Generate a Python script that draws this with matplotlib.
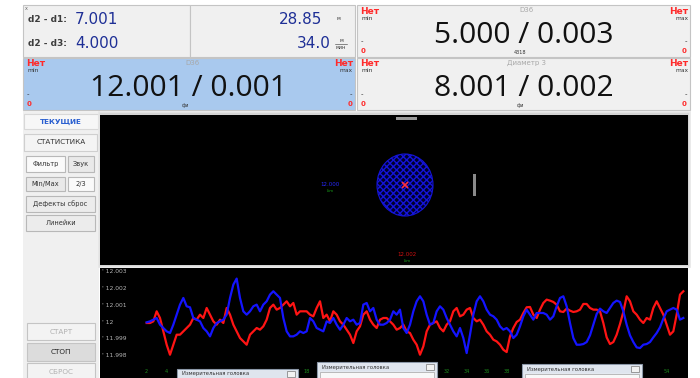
import numpy as np
import matplotlib.pyplot as plt
from matplotlib.patches import Rectangle, Ellipse

# diameter trace, deviation from nominal in micrometres, one value per sample
nominal = 12.0
blue_um = [-0.02, 0.04, 0.14, 0.24, -0.16, -0.36, -0.56, -0.66, -0.16, 0.44,
           1.04, 1.44, 0.94, 0.88, 0.24, 0.14, 0.04, -0.36, -0.56, -0.86,
           -0.36, -0.06, 0.04, 0.14, 0.44, 1.44, 2.24, 2.6, 1.44, 0.64,
           0.44, 0.64, 0.94, 1.04, 0.64, 1.04, 1.24, 1.64, 1.84, 1.64,
           1.44, 0.24, -0.56, -0.86, -0.86, -0.76, -0.56, -0.66, -0.56, 0.24,
           0.04, -0.36, -0.46, -0.56, 0.04, -0.06, 0.24, -0.16, -0.46, -0.16,
           0.24, 0.04, 0.14, -0.16, -0.06, 1.04, 1.14, 0.64, 0.84, 0.14,
           -0.16, -0.16, -0.06, 0.14, 0.64, 0.44, 0.74,
           -0.36, -0.66, -0.16, 0.64, 1.24, 1.54, 1.24, 0.44, -0.16, -0.06,
           0.64, 0.94, 0.74, 0.24, -0.16, -0.56, -0.86, -0.36, -0.96, -1.86,
           -0.76, 0.44, 1.24, 1.54, 1.24, 0.74, 0.44, 0.34, 0.14, -0.26,
           -0.46, -0.36, -0.56, -0.96, -0.76, -0.26, 0.34, 0.74, 0.44, 0.14,
           0.54, 0.54, 0.54, 0.44, 0.14, 0.34, 0.94, 1.44, 1.54, 0.94,
           -0.06, -0.96, -1.36, -1.36, -1.32, -1.2, -0.8, -0.16, 0.48, 0.8,
           0.64, 0.54, 0.84, 1.14, 1.28, 1.2, 0.64, -0.16, -0.8, -1.2,
           -1.52, -1.56, -1.36, -1.32, -1.2, -0.92, -0.66, -0.32, 0.2, 0.64,
           0.74, 0.84, 0.74, 0.14, 0.24]
red_um = [-0.06, -0.06, 0.04, 0.64, 0.24, -0.56, -1.36, -1.96, -1.36, -0.76,
          -0.76, -0.56, -0.36, -0.16, 0.24, 0.14, 0.44, 0.24, 0.84, 0.44,
          0.04, -0.16, 0.14, -0.06, 0.84, 0.44, -0.16, -0.56, -0.96, -1.16,
          -1.36, -0.76, -0.56, -0.36, -0.46, -0.26, 0.14, 0.84, 1.04, 0.74,
          0.84, 1.04, 1.24, 0.94, 1.14, 0.44, 0.64, 0.64, 0.64, 0.44,
          0.34, 0.84, 1.24, 0.24, 0.44, 0.04, 0.64, 0.44, 0.04, -0.16,
          -0.46, -0.76, -1.26, -0.56, -0.26, 0.44, 0.64, 0.14, -0.16, -0.36,
          0.14, 0.24, 0.24, 0.04, -0.16, -0.46, -0.36,
          -0.16, -0.56, -0.66, -1.06, -1.36, -1.96, -1.46, -0.56, -0.16, -0.06,
          0.04, -0.36, -0.56, -0.16, 0.04, 0.64, 0.84, 0.34, 0.44, 0.74,
          0.84, 0.24, 0.04, 0.14, -0.16, -0.56, -0.76, -1.06, -1.16, -1.36,
          -1.66, -1.8, -0.86, -0.36, 0.0, 0.14, 0.54, 0.88, 0.9, 0.44,
          0.24, 0.74, 1.14, 1.34, 1.28, 1.2, 1.04, 0.64, 0.6, 0.8,
          0.68, 0.6, 0.64, 0.74, 1.08, 1.08, 0.84, 0.74, 0.74, 0.64,
          -0.06, -0.92, -1.32, -1.2, -0.76, -0.12, 0.6, 1.54, 1.24, 0.64,
          0.44, 0.14, -0.06, 0.24, 0.14, 0.84, 1.24, 0.84, 0.44, -0.16,
          -0.76, -0.56, 0.44, 1.64, 1.84]
ytick_vals = [12.003, 12.002, 12.001, 12.0, 11.999, 11.998]
ytick_text = ["12.003", "12.002", "12.001", "12", "11.999", "11.998"]
xtick_text = [str(v) for v in range(2, 56, 2)]

# readout panels: title, value, caption
readouts = [("D36", "5.000 / 0.003", "4318"),
            ("D36", "12.001 / 0.001", "фи"),
            ("Диаметр 3", "8.001 / 0.002", "фи")]
side_buttons = ["СТАТИСТИКА", "Дефекты сброс", "Линейки"]
run_buttons = ["СТАРТ", "СТОП", "СБРОС"]

RED = "#ff2a2a"
NAVY = "#1e2f96"
DARK = "#333333"
BIG = "Open Sans"

# probe windows lying over the chart: left, top, right (px)
windows = [(177, 369, 298), (317, 362, 437), (522, 364, 642)]

fig = plt.figure(figsize=(7, 3.78), dpi=100, facecolor="white")
ax = fig.add_axes([0, 0, 1, 1])
ax.set_xlim(0, 700)
ax.set_ylim(378, 0)
ax.axis("off")


def box(a, x0, y0, x1, y1, fc, ec="#c4c4c4", lw=0.8, z=1):
    a.add_patch(Rectangle((x0, y0), x1 - x0, y1 - y0, fc=fc, ec=ec, lw=lw, zorder=z))


def readout(x0, x1, y0, y1, fc, title, value, caption):
    box(ax, x0, y0, x1, y1, fc)
    xc = (x0 + x1) / 2
    for x, ha, lim in ((x0 + 3, "left", "min"), (x1 - 2, "right", "max")):
        ax.text(x, y0 + 6, "Нет", color=RED, fontsize=6.5, fontweight="bold", ha=ha, va="center")
        ax.text(x + (1 if ha == "left" else 0), y0 + 13, lim, color=DARK, fontsize=4.3, ha=ha, va="center")
        ax.text(x + (1 if ha == "left" else -1), y0 + 36, "-", color=DARK, fontsize=5, ha=ha, va="center")
        ax.text(x + (1 if ha == "left" else -1), y0 + 46, "0", color=RED, fontsize=5, fontweight="bold", ha=ha, va="center")
    ax.text(xc + 3, y0 + 5, title, color="#a8a8a8", fontsize=5, ha="center", va="center")
    ax.text(xc, y0 + 38, value, color="#111111", fontsize=21.6, family=BIG, ha="center", va="baseline")
    ax.text(xc - 3, y0 + 47, caption, color=DARK, fontsize=3.5, ha="center", va="center")


# top left block: differences and speed
box(ax, 23, 5, 190, 57, "#f0f0f0")
box(ax, 190, 5, 355, 57, "#f0f0f0")
ax.text(25, 8, "x", fontsize=3.5, color="#666666", va="center")
ax.text(28, 20, "d2 - d1:", fontsize=6.5, fontweight="bold", color="#3c3c3c", va="center")
ax.text(75, 20, "7.001", fontsize=11, color=NAVY, va="center")
ax.text(28, 44, "d2 - d3:", fontsize=6.5, fontweight="bold", color="#3c3c3c", va="center")
ax.text(75, 44, "4.000", fontsize=11, color=NAVY, va="center")
ax.text(322, 20, "28.85", fontsize=11, color=NAVY, ha="right", va="center")
ax.text(338, 18, "м", fontsize=3.5, color=DARK, ha="center", va="center")
ax.text(331, 44, "34.0", fontsize=11, color=NAVY, ha="right", va="center")
ax.text(341, 41, "м", fontsize=3.5, color=DARK, ha="center", va="center")
ax.plot([335, 347], [44, 44], color=DARK, lw=0.4)
ax.text(341, 47.5, "мин", fontsize=3.5, color=DARK, ha="center", va="center")

readout(357, 690, 5, 57, "#f0f0f0", *readouts[0])
readout(23, 355, 58, 110, "#a9c9ee", *readouts[1])
readout(357, 690, 58, 110, "#f0f0f0", *readouts[2])

# left control column
box(ax, 23, 111, 99, 378, "#f0f0f0", ec="none")
box(ax, 24, 114, 98, 129, "#f7f7f7", ec="#d8d8d8")
ax.text(61, 121.5, "ТЕКУЩИЕ", fontsize=5.2, fontweight="bold", color="#2a5fd0", ha="center", va="center")
box(ax, 24, 134, 97, 151, "#f4f4f4", ec="#cfcfcf")
ax.text(61, 142.5, side_buttons[0], fontsize=5.2, color=DARK, ha="center", va="center")
for (x0, x1, y0, y1, s, fc) in ((26, 65, 156, 172, "Фильтр", "#fafafa"),
                                (68, 94, 156, 172, "Звук", "#e9e9e9"),
                                (26, 65, 177, 191, "Min/Max", "#e9e9e9"),
                                (68, 94, 177, 191, "2/3", "#fafafa")):
    box(ax, x0, y0, x1, y1, fc, ec="#b8b8b8")
    ax.text((x0 + x1) / 2, (y0 + y1) / 2, s, fontsize=4.8, color=DARK, ha="center", va="center")
for (y0, y1, s) in ((196, 212, side_buttons[1]), (215, 231, side_buttons[2])):
    box(ax, 26, y0, 95, y1, "#ececec", ec="#b8b8b8")
    ax.text(60.5, (y0 + y1) / 2, s, fontsize=4.8, color=DARK, ha="center", va="center")
for (y0, y1, s, fc, tc) in ((323, 340, run_buttons[0], "#f3f3f3", "#b0b0b0"),
                            (343, 361, run_buttons[1], "#dcdcdc", "#222222"),
                            (363, 380, run_buttons[2], "#f3f3f3", "#b0b0b0")):
    box(ax, 27, y0, 95, y1, fc, ec="#c4c4c4")
    ax.text(61, (y0 + y1) / 2, s, fontsize=5.2, color=tc, ha="center", va="center")

# target view canvas
box(ax, 99, 112, 690, 267, "#d4d4d4", ec="#e6e6e6", lw=1.2)
box(ax, 100, 115, 688, 265, "black", ec="none", z=2)
box(ax, 396, 117, 417, 119.5, "#9a9a9a", ec="none", z=3)
box(ax, 473, 174, 475.5, 196, "#8a8a8a", ec="none", z=3)
ax.add_patch(Ellipse((405, 185), 56, 62, fc="#00002e", ec="#1414d8", hatch="xxxxx", lw=0.8, zorder=3))
ax.plot([405], [185], marker="x", color="#ff3040", ms=4, mew=1.2, zorder=4)
ax.text(330, 185, "12.000", fontsize=4, color="#2828ff", ha="center", va="center", zorder=4)
ax.text(330, 191, "Lim", fontsize=2.8, color="#18a018", ha="center", va="center", zorder=4)
ax.text(407, 254, "12.002", fontsize=4, color="#d01010", ha="center", va="center", zorder=4)
ax.text(407, 261, "Lim", fontsize=2.8, color="#18a018", ha="center", va="center", zorder=4)

# trace chart
top_v = nominal + (322 - 268) / 16.7 * 0.001
bot_v = nominal - (378 - 322) / 16.7 * 0.001
ch = fig.add_axes([100 / 700, 0, 588 / 700, 110 / 378], zorder=2)
ch.set_facecolor("black")
n = len(blue_um)
idx = np.arange(n)
x_lo, x_hi = -14.0, 162.4
ch.set_xlim(x_lo, x_hi)
ch.set_ylim(bot_v, top_v)
ch.plot(idx, nominal + np.array(red_um) / 1000, color="#ff1414", lw=1.6)
ch.plot(idx, nominal + np.array(blue_um) / 1000, color="#1414ff", lw=1.6)
for v, s in zip(ytick_vals, ytick_text):
    ch.text(0.004, v, "' " + s, transform=ch.get_yaxis_transform(), fontsize=4.3,
            color="#b4b4b4", va="center")
for k, s in enumerate(xtick_text):
    px = 100 + (k * 6 - x_lo) / (x_hi - x_lo) * 588
    # labels under a probe window stay hidden
    if any(w[0] - 6 < px < w[2] + 6 for w in windows):
        continue
    ch.text(k * 6, 0.055, s, transform=ch.get_xaxis_transform(), fontsize=3.6,
            color="#1c8c1c", ha="center", va="center")
ch.set_xticks([])
ch.set_yticks([])
for sp in ch.spines.values():
    sp.set_visible(False)

# floating probe windows over the chart
ov = fig.add_axes([0, 0, 1, 1], zorder=5)
ov.set_xlim(0, 700)
ov.set_ylim(378, 0)
ov.axis("off")
ov.patch.set_alpha(0)
for (x0, y0, x1) in windows:
    box(ov, x0, y0, x1, 382, "#e4e9f0", ec="#8c98a8", lw=0.8)
    box(ov, x0 + 1, y0 + 1, x1 - 1, y0 + 9, "#dfe5ee", ec="none")
    ov.text(x0 + 5, y0 + 5, "Измерительная головка", fontsize=3.8, color="#303030", va="center")
    box(ov, x1 - 11, y0 + 1.5, x1 - 3, y0 + 8, "#f2f2f2", ec="#8a8a8a", lw=0.6)
    box(ov, x0 + 3, y0 + 10, x1 - 3, 384, "#f8f8f8", ec="#b0b0b0", lw=0.6)
    if y0 + 17 < 378:
        ov.text(x0 + 8, y0 + 13.5, "Диапазон", fontsize=3.5, color="#404040", va="center")

fig.savefig("out.png", dpi=100, facecolor="white")
